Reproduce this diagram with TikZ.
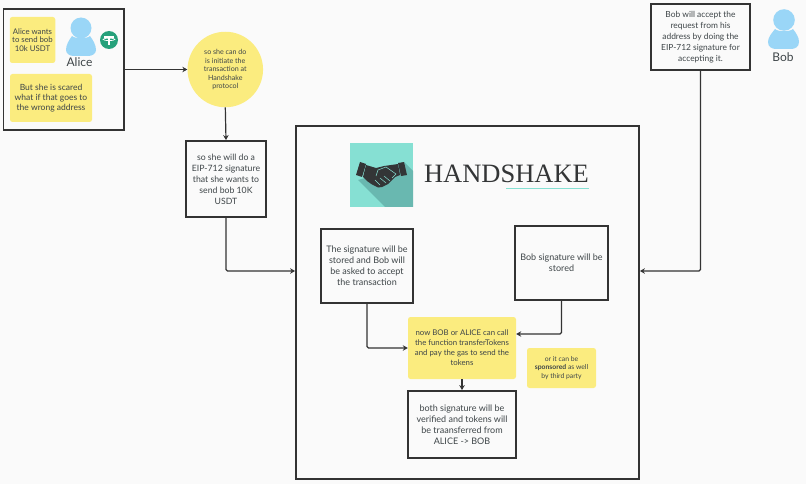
\documentclass[tikz,border=0pt]{standalone}
\usepackage{fontspec}
\setmainfont{Lato}
\newfontfamily\logofont{Liberation Serif}
\usetikzlibrary{arrows.meta,calc}
\definecolor{pagebg}{HTML}{FAFAFA}
\definecolor{noteyellow}{HTML}{FBEC7F}
\definecolor{inkline}{HTML}{333333}
\definecolor{inktext}{HTML}{3E4548}
\definecolor{personblue}{HTML}{9AD6F7}
\definecolor{tethergreen}{HTML}{26A17B}
\definecolor{logoteal}{HTML}{86E0D3}
\definecolor{logoshade}{HTML}{69B8B0}
\definecolor{logodark}{HTML}{333536}
\tikzset{
  flowbox/.style={draw=inkline,line width=1.8pt,fill=pagebg,inner sep=0pt,align=center,text=inktext,font=\fontsize{9}{11}\selectfont},
  notebox/.style={fill=noteyellow,rounded corners=2.5pt,inner sep=0pt,align=center,text=inktext},
  flowarrow/.style={draw=inkline,line width=1.2pt,rounded corners=1.5pt,-{Stealth[length=5pt,width=5.5pt]}},
  personlabel/.style={text=inktext,inner sep=0pt,font=\fontsize{12}{13}\selectfont}
}
\begin{document}
\begin{tikzpicture}[x=1pt,y=-1pt]
\useasboundingbox (0,0) rectangle (806,484);
\fill[pagebg] (0,0) rectangle (806,484);
% frames
\node[flowbox,minimum width=120.5pt,minimum height=120.5pt] (alicebox) at (63.75,69.5) {};
\node[flowbox,minimum width=343pt,minimum height=353pt] (bigbox) at (467.5,302.5) {};
% notes in Alice frame
\node[notebox,minimum width=45.5pt,minimum height=46pt,font=\fontsize{7.8}{8.7}\selectfont] (notea) at (32.5,40) {Alice wants\\to send bob\\10k USDT};
\node[notebox,minimum width=82pt,minimum height=48pt,font=\fontsize{8.5}{10}\selectfont] (noteb) at (51,98) {But she is scared\\what if that goes to\\the wrong address};
% Alice person
\fill[personblue] (81,28) circle (10.5);
\fill[personblue] (72,36) .. controls (75,39) and (87,39) .. (90,36) .. controls (93,40) and (96,45) .. (96,50) .. controls (96,54) and (92,56) .. (88,56) -- (74,56) .. controls (70,56) and (66,54) .. (66,50) .. controls (66,45) and (69,40) .. (72,36) -- cycle;
\node[personlabel] (alicename) at (79.5,62.5) {Alice};
% Tether
\node[circle,fill=tethergreen,minimum size=18pt,inner sep=0pt] (tether) at (109,40) {};
\fill[white] (104,35.6) rectangle (114,37.6);
\fill[white] (107.9,37) rectangle (110.1,45.5);
\draw[white,line width=0.6pt] (109,39.4) ellipse (6 and 1.2);
% circle
\node[circle,fill=noteyellow,minimum size=75.5pt,inner sep=0pt,align=center,text=inktext,font=\fontsize{7.1}{8.5}\selectfont] (startcircle) at (225.3,69.5) {so she can do\\is initiate the\\transaction at\\Handshake\\protocol};
% boxes
\node[flowbox,minimum width=80pt,minimum height=76pt,font=\fontsize{8.7}{11}\selectfont] (eipbox) at (226,179) {so she will do a\\EIP-712 signature\\that she wants to\\send bob 10K\\USDT};
\node[flowbox,minimum width=92pt,minimum height=74pt] (sigbox) at (367,266) {The signature will be\\stored and Bob will\\be asked to accept\\the transaction};
\node[flowbox,minimum width=93pt,minimum height=74pt] (bobsig) at (561.5,263) {Bob signature will be\\stored};
\node[notebox,minimum width=108pt,minimum height=62pt,font=\fontsize{7.8}{9.9}\selectfont] (callnote) at (462,348) {now BOB or ALICE can call\\the function transferTokens\\and pay the gas to send the\\tokens};
\node[notebox,minimum width=69pt,minimum height=40pt,font=\fontsize{6.8}{8.5}\selectfont] (sponsor) at (561.5,368) {or it can be\\{\bfseries sponsored} as well\\by third party};
\node[flowbox,minimum width=108pt,minimum height=67pt] (finalbox) at (462,424.5) {both signature will be\\verified and tokens will\\be traansferred from\\ALICE -> BOB};
\node[flowbox,minimum width=99pt,minimum height=66pt,font=\fontsize{8.4}{11}\selectfont] (bobbox) at (700.5,37) {Bob will accept the\\request from his\\address by doing the\\EIP-712 signature for\\accepting it.};
% Bob person
\fill[personblue] (784,20) circle (10.8);
\fill[personblue] (775,29) .. controls (778,32) and (790,32) .. (793,29) .. controls (796,33) and (799,37) .. (799,42) .. controls (799,47) and (795,49) .. (791,49) -- (776,49) .. controls (772,49) and (768,47) .. (768,42) .. controls (768,37) and (772,33) .. (775,29) -- cycle;
\node[personlabel] (bobname) at (783,57) {Bob};
% logo
\node[fill=logoteal,minimum width=63.5pt,minimum height=63.5pt,inner sep=0pt] (logosquare) at (381.7,175) {};
\fill[logoshade] (404,162) -- (413.2,171) -- (413.2,206.8) -- (385,206.8) -- (358,180) -- (372,176) -- cycle;
\fill[logodark] (360,162) -- (366,164) -- (362,177) -- (356,175) -- cycle;
\fill[logodark] (398,163) -- (404,162) -- (407,175) -- (401,176) -- cycle;
\fill[logodark] (366,165) -- (376,168) -- (384,166) -- (398,164) -- (400,175) -- (395,177) -- (388,184) -- (382,187) -- (378,187.5) -- (372,184.5) -- (367,181) -- (363,177) -- cycle;
\draw[logoteal,line width=0.5pt] (376,176) -- (378,170) -- (386,167) -- (396,174) -- (392,178) (384,176) -- (390,181) (380,178) -- (386,183) (375,180) -- (380,185);
\node[inner sep=0pt,text=logodark,font=\logofont\fontsize{26.5}{27}\selectfont] (logotext) at (506.5,173.5) {HANDSHAKE};
\coordinate (rulestart) at (506,188.5);
\coordinate (ruleend) at (588.5,188.5);
\draw[logoteal,line width=0.9pt] (rulestart) -- (ruleend);
% connectors
\draw[flowarrow] (alicebox.east) -- (startcircle.west);
\draw[flowarrow] (startcircle.south) -- (eipbox.north);
\draw[flowarrow] (eipbox.south) |- ([yshift=31.5pt]bigbox.west);
\draw[flowarrow] (bobbox.south) |- ([yshift=31.5pt]bigbox.east);
\draw[flowarrow] (sigbox.south) |- (callnote.west);
\draw[flowarrow] (bobsig.south) |- ([yshift=14pt]callnote.east);
\draw[flowarrow] (callnote.south) -- (finalbox.north);
\end{tikzpicture}
\end{document}
